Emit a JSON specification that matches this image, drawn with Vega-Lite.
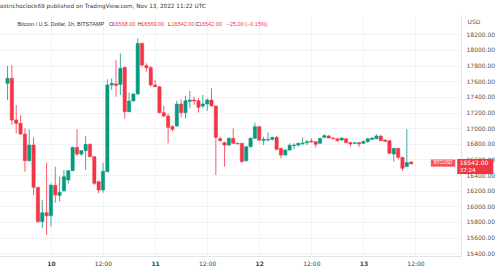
{
"$schema": "https://vega.github.io/schema/vega-lite/v6.json",
"width": 461, "height": 241,
"autosize": "none",
"padding": {"top": 15, "left": 0, "right": 39, "bottom": 15},
"background": "white",
"config": {"view": {"stroke": null}, "font": "DejaVu Sans", "axis": {"labelOverlap": false}},
"title": {"text": "ostrichoclock69 published on TradingView.com, Nov 13, 2022 11:22 UTC", "anchor": "start", "fontSize": 5.7, "fontWeight": "normal", "color": "#333333", "offset": 6, "font": "DejaVu Sans"},
"data": {"values": [
{"t":"2022-11-09T14:00:00Z","o":17573,"h":17795,"l":17360,"c":17637},
{"t":"2022-11-09T15:00:00Z","o":17637,"h":17807,"l":17040,"c":17104},
{"t":"2022-11-09T16:00:00Z","o":17104,"h":17296,"l":16934,"c":17061},
{"t":"2022-11-09T17:00:00Z","o":17061,"h":17168,"l":16912,"c":16925},
{"t":"2022-11-09T18:00:00Z","o":16925,"h":16997,"l":16443,"c":16584},
{"t":"2022-11-09T19:00:00Z","o":16584,"h":16985,"l":16571,"c":16784},
{"t":"2022-11-09T20:00:00Z","o":16784,"h":16882,"l":16145,"c":16243},
{"t":"2022-11-09T21:00:00Z","o":16243,"h":16250,"l":15791,"c":15804},
{"t":"2022-11-09T22:00:00Z","o":15804,"h":16081,"l":15719,"c":15919},
{"t":"2022-11-09T23:00:00Z","o":15919,"h":16558,"l":15633,"c":15880},
{"t":"2022-11-10T00:00:00Z","o":15880,"h":16294,"l":15740,"c":16270},
{"t":"2022-11-10T01:00:00Z","o":16270,"h":16507,"l":16047,"c":16145},
{"t":"2022-11-10T02:00:00Z","o":16140,"h":16379,"l":16060,"c":16179},
{"t":"2022-11-10T03:00:00Z","o":16200,"h":16465,"l":16187,"c":16379},
{"t":"2022-11-10T04:00:00Z","o":16337,"h":16465,"l":16294,"c":16456},
{"t":"2022-11-10T05:00:00Z","o":16456,"h":16763,"l":16450,"c":16754},
{"t":"2022-11-10T06:00:00Z","o":16754,"h":16985,"l":16644,"c":16669},
{"t":"2022-11-10T07:00:00Z","o":16669,"h":16720,"l":16644,"c":16712},
{"t":"2022-11-10T08:00:00Z","o":16712,"h":16899,"l":16465,"c":16793},
{"t":"2022-11-10T09:00:00Z","o":16793,"h":16806,"l":16627,"c":16635},
{"t":"2022-11-10T10:00:00Z","o":16635,"h":16644,"l":16273,"c":16294},
{"t":"2022-11-10T11:00:00Z","o":16315,"h":16328,"l":16166,"c":16209},
{"t":"2022-11-10T12:00:00Z","o":16209,"h":16558,"l":16175,"c":16448},
{"t":"2022-11-10T13:00:00Z","o":16443,"h":17624,"l":16440,"c":17552},
{"t":"2022-11-10T14:00:00Z","o":17552,"h":17637,"l":17488,"c":17573},
{"t":"2022-11-10T15:00:00Z","o":17566,"h":17871,"l":17402,"c":17547},
{"t":"2022-11-10T16:00:00Z","o":17560,"h":17957,"l":17424,"c":17765},
{"t":"2022-11-10T17:00:00Z","o":17778,"h":17786,"l":17125,"c":17211},
{"t":"2022-11-10T18:00:00Z","o":17211,"h":17454,"l":17205,"c":17347},
{"t":"2022-11-10T19:00:00Z","o":17347,"h":17445,"l":17338,"c":17437},
{"t":"2022-11-10T20:00:00Z","o":17437,"h":18148,"l":17430,"c":18084},
{"t":"2022-11-10T21:00:00Z","o":18084,"h":18093,"l":17786,"c":17807},
{"t":"2022-11-10T22:00:00Z","o":17799,"h":17829,"l":17722,"c":17773},
{"t":"2022-11-10T23:00:00Z","o":17773,"h":17795,"l":17530,"c":17552},
{"t":"2022-11-11T00:00:00Z","o":17552,"h":17616,"l":17522,"c":17530},
{"t":"2022-11-11T01:00:00Z","o":17530,"h":17539,"l":17189,"c":17198},
{"t":"2022-11-11T02:00:00Z","o":17198,"h":17283,"l":17138,"c":17155},
{"t":"2022-11-11T03:00:00Z","o":17155,"h":17189,"l":16806,"c":17010},
{"t":"2022-11-11T04:00:00Z","o":17019,"h":17040,"l":16955,"c":16985},
{"t":"2022-11-11T05:00:00Z","o":17027,"h":17351,"l":17019,"c":17309},
{"t":"2022-11-11T06:00:00Z","o":17309,"h":17368,"l":17138,"c":17198},
{"t":"2022-11-11T07:00:00Z","o":17198,"h":17411,"l":17125,"c":17351},
{"t":"2022-11-11T08:00:00Z","o":17343,"h":17475,"l":17253,"c":17360},
{"t":"2022-11-11T09:00:00Z","o":17360,"h":17402,"l":17296,"c":17347},
{"t":"2022-11-11T10:00:00Z","o":17351,"h":17381,"l":17198,"c":17266},
{"t":"2022-11-11T11:00:00Z","o":17283,"h":17424,"l":17253,"c":17309},
{"t":"2022-11-11T12:00:00Z","o":17309,"h":17381,"l":17223,"c":17360},
{"t":"2022-11-11T13:00:00Z","o":17360,"h":17509,"l":17280,"c":17283},
{"t":"2022-11-11T14:00:00Z","o":17283,"h":17290,"l":16401,"c":16882},
{"t":"2022-11-11T15:00:00Z","o":16865,"h":16891,"l":16827,"c":16840},
{"t":"2022-11-11T16:00:00Z","o":16814,"h":16827,"l":16507,"c":16784},
{"t":"2022-11-11T17:00:00Z","o":16784,"h":16882,"l":16771,"c":16870},
{"t":"2022-11-11T18:00:00Z","o":16870,"h":16997,"l":16800,"c":16806},
{"t":"2022-11-11T19:00:00Z","o":16806,"h":16814,"l":16795,"c":16797},
{"t":"2022-11-11T20:00:00Z","o":16806,"h":16810,"l":16558,"c":16571},
{"t":"2022-11-11T21:00:00Z","o":16584,"h":16768,"l":16571,"c":16763},
{"t":"2022-11-11T22:00:00Z","o":16763,"h":16882,"l":16754,"c":16870},
{"t":"2022-11-11T23:00:00Z","o":16870,"h":17070,"l":16865,"c":17019},
{"t":"2022-11-12T00:00:00Z","o":17019,"h":17027,"l":16835,"c":16848},
{"t":"2022-11-12T01:00:00Z","o":16840,"h":16891,"l":16784,"c":16857},
{"t":"2022-11-12T02:00:00Z","o":16848,"h":16946,"l":16827,"c":16857},
{"t":"2022-11-12T03:00:00Z","o":16857,"h":16891,"l":16840,"c":16882},
{"t":"2022-11-12T04:00:00Z","o":16882,"h":16899,"l":16720,"c":16729},
{"t":"2022-11-12T05:00:00Z","o":16742,"h":16745,"l":16614,"c":16656},
{"t":"2022-11-12T06:00:00Z","o":16656,"h":16729,"l":16650,"c":16720},
{"t":"2022-11-12T07:00:00Z","o":16720,"h":16806,"l":16712,"c":16780},
{"t":"2022-11-12T08:00:00Z","o":16776,"h":16806,"l":16729,"c":16784},
{"t":"2022-11-12T09:00:00Z","o":16784,"h":16814,"l":16763,"c":16806},
{"t":"2022-11-12T10:00:00Z","o":16801,"h":16882,"l":16784,"c":16810},
{"t":"2022-11-12T11:00:00Z","o":16814,"h":16848,"l":16784,"c":16827},
{"t":"2022-11-12T12:00:00Z","o":16835,"h":16870,"l":16814,"c":16823},
{"t":"2022-11-12T13:00:00Z","o":16827,"h":16830,"l":16754,"c":16793},
{"t":"2022-11-12T14:00:00Z","o":16806,"h":16872,"l":16800,"c":16870},
{"t":"2022-11-12T15:00:00Z","o":16883,"h":16921,"l":16870,"c":16904},
{"t":"2022-11-12T16:00:00Z","o":16900,"h":16912,"l":16870,"c":16874},
{"t":"2022-11-12T17:00:00Z","o":16874,"h":16883,"l":16857,"c":16865},
{"t":"2022-11-12T18:00:00Z","o":16865,"h":16870,"l":16827,"c":16840},
{"t":"2022-11-12T19:00:00Z","o":16848,"h":16878,"l":16840,"c":16874},
{"t":"2022-11-12T20:00:00Z","o":16865,"h":16868,"l":16806,"c":16814},
{"t":"2022-11-12T21:00:00Z","o":16814,"h":16827,"l":16763,"c":16797},
{"t":"2022-11-12T22:00:00Z","o":16806,"h":16823,"l":16797,"c":16814},
{"t":"2022-11-12T23:00:00Z","o":16814,"h":16827,"l":16763,"c":16797},
{"t":"2022-11-13T00:00:00Z","o":16806,"h":16840,"l":16797,"c":16831},
{"t":"2022-11-13T01:00:00Z","o":16827,"h":16874,"l":16814,"c":16865},
{"t":"2022-11-13T02:00:00Z","o":16857,"h":16883,"l":16848,"c":16874},
{"t":"2022-11-13T03:00:00Z","o":16865,"h":16921,"l":16857,"c":16900},
{"t":"2022-11-13T04:00:00Z","o":16900,"h":16908,"l":16831,"c":16840},
{"t":"2022-11-13T05:00:00Z","o":16848,"h":16857,"l":16823,"c":16831},
{"t":"2022-11-13T06:00:00Z","o":16840,"h":16843,"l":16669,"c":16678},
{"t":"2022-11-13T07:00:00Z","o":16669,"h":16742,"l":16571,"c":16742},
{"t":"2022-11-13T08:00:00Z","o":16742,"h":16745,"l":16601,"c":16627},
{"t":"2022-11-13T09:00:00Z","o":16627,"h":16630,"l":16452,"c":16486},
{"t":"2022-11-13T10:00:00Z","o":16507,"h":16985,"l":16505,"c":16559},
{"t":"2022-11-13T11:00:00Z","o":16568,"h":16569,"l":16542,"c":16542}
]},
"layer": [
  {"mark": {"type": "rule", "strokeWidth": 0.8},
   "encoding": {
     "x": {"field": "t", "type": "temporal",
       "scale": {"type": "utc", "domain": [1668000300000, 1668374400000]},
       "axis": {"orient": "bottom", "title": null, "tickCount": 20,
         "values": [1668038400000, 1668081600000, 1668124800000, 1668168000000, 1668211200000, 1668254400000, 1668297600000, 1668340800000],
         "labelExpr": "utchours(datum.value) == 0 ? utcFormat(datum.value, '%-d') : '12:00'",
         "labelFontWeight": {"condition": {"test": "utchours(datum.value) == 0", "value": "bold"}, "value": "normal"},
         "labelFontSize": 6, "labelColor": "#444444", "labelPadding": 4, "ticks": false,
         "domainColor": "#e0e3eb", "gridColor": "#f0f3fa", "labelFlush": false, "labelOverlap": false}},
     "y": {"field": "l", "type": "quantitative",
       "scale": {"domain": [15365, 18447], "nice": false, "zero": false},
       "axis": {"orient": "right", "tickCount": 20, "values": [15400,15600,15800,16000,16200,16400,16600,16800,17000,17200,17400,17600,17800,18000,18200],
         "format": ".2f", "labelFontSize": 6, "labelColor": "#555555", "labelPadding": 5, "ticks": false,
         "domainColor": "#e0e3eb", "gridColor": "#f0f3fa", "labelAlign": "left", "labelOverlap": false,
         "title": "USD", "titleAngle": 0, "titleX": 6, "titleY": 6, "titleAlign": "left", "titleBaseline": "middle",
         "titleFontSize": 6, "titleFontWeight": "normal", "titleColor": "#555555"}},
     "y2": {"field": "h"},
     "color": {"condition": {"test": "datum.c >= datum.o", "value": "#089981"}, "value": "#f23645"}}},
  {"mark": {"type": "bar", "width": 3.3, "strokeWidth": 0.5},
   "encoding": {
     "x": {"field": "t", "type": "temporal"},
     "y": {"field": "o", "type": "quantitative"},
     "y2": {"field": "c"},
     "color": {"condition": {"test": "datum.c >= datum.o", "value": "#089981"}, "value": "#f23645"},
     "stroke": {"condition": {"test": "datum.c >= datum.o", "value": "#089981"}, "value": "#f23645"}}},
  {"data": {"values": [{}]},
   "mark": {"type": "text", "align": "left", "baseline": "middle", "fontSize": 5.5, "font": "Liberation Sans", "fill": "#333333"},
   "encoding": {"x": {"datum": 1668010614000, "type": "temporal"}, "y": {"datum": 18338, "type": "quantitative"}, "text": {"value": "Bitcoin / U.S. Dollar, 1h, BITSTAMP"}}},
  {"data": {"values": [{}]},
   "mark": {"type": "text", "align": "left", "baseline": "middle", "fontSize": 5.5, "font": "Liberation Sans", "fill": "#333333"},
   "encoding": {"x": {"datum": 1668086600000, "type": "temporal"}, "y": {"datum": 18338, "type": "quantitative"}, "text": {"value": "O"}}},
  {"data": {"values": [{}]},
   "mark": {"type": "text", "align": "left", "baseline": "middle", "fontSize": 5.5, "font": "Liberation Sans", "fill": "#f23645"},
   "encoding": {"x": {"datum": 1668089435000, "type": "temporal"}, "y": {"datum": 18338, "type": "quantitative"}, "text": {"value": "16568.00"}}},
  {"data": {"values": [{}]},
   "mark": {"type": "text", "align": "left", "baseline": "middle", "fontSize": 5.5, "font": "Liberation Sans", "fill": "#333333"},
   "encoding": {"x": {"datum": 1668110497000, "type": "temporal"}, "y": {"datum": 18338, "type": "quantitative"}, "text": {"value": "H"}}},
  {"data": {"values": [{}]},
   "mark": {"type": "text", "align": "left", "baseline": "middle", "fontSize": 5.5, "font": "Liberation Sans", "fill": "#f23645"},
   "encoding": {"x": {"datum": 1668113332000, "type": "temporal"}, "y": {"datum": 18338, "type": "quantitative"}, "text": {"value": "16569.00"}}},
  {"data": {"values": [{}]},
   "mark": {"type": "text", "align": "left", "baseline": "middle", "fontSize": 5.5, "font": "Liberation Sans", "fill": "#333333"},
   "encoding": {"x": {"datum": 1668135610000, "type": "temporal"}, "y": {"datum": 18338, "type": "quantitative"}, "text": {"value": "L"}}},
  {"data": {"values": [{}]},
   "mark": {"type": "text", "align": "left", "baseline": "middle", "fontSize": 5.5, "font": "Liberation Sans", "fill": "#f23645"},
   "encoding": {"x": {"datum": 1668138445000, "type": "temporal"}, "y": {"datum": 18338, "type": "quantitative"}, "text": {"value": "16542.00"}}},
  {"data": {"values": [{}]},
   "mark": {"type": "text", "align": "left", "baseline": "middle", "fontSize": 5.5, "font": "Liberation Sans", "fill": "#333333"},
   "encoding": {"x": {"datum": 1668158292000, "type": "temporal"}, "y": {"datum": 18338, "type": "quantitative"}, "text": {"value": "C"}}},
  {"data": {"values": [{}]},
   "mark": {"type": "text", "align": "left", "baseline": "middle", "fontSize": 5.5, "font": "Liberation Sans", "fill": "#f23645"},
   "encoding": {"x": {"datum": 1668161127000, "type": "temporal"}, "y": {"datum": 18338, "type": "quantitative"}, "text": {"value": "16542.00"}}},
  {"data": {"values": [{}]},
   "mark": {"type": "text", "align": "left", "baseline": "middle", "fontSize": 5.5, "font": "Liberation Sans", "fill": "#f23645"},
   "encoding": {"x": {"datum": 1668184215000, "type": "temporal"}, "y": {"datum": 18338, "type": "quantitative"}, "text": {"value": "−25.00 (−0.15%)"}}},
  {"data": {"values": [{}]},
   "mark": {"type": "rect", "fill": "#f7525f"},
   "encoding": {"x": {"datum": 1668353522000, "type": "temporal"}, "x2": {"datum": 1668373774000}, "y": {"datum": 16599, "type": "quantitative"}, "y2": {"datum": 16507}}},
  {"data": {"values": [{}]},
   "mark": {"type": "text", "align": "center", "baseline": "middle", "fontSize": 4.5, "font": "Liberation Sans", "fill": "white"},
   "encoding": {"x": {"datum": 1668363648000, "type": "temporal"}, "y": {"datum": 16554, "type": "quantitative"}, "text": {"value": "BTCUSD"}}},
  {"data": {"values": [{}]},
   "mark": {"type": "rect", "fill": "#f23645"},
   "encoding": {"x": {"datum": 1668375394000, "type": "temporal"}, "x2": {"datum": 1668405367000}, "y": {"datum": 16605, "type": "quantitative"}, "y2": {"datum": 16414}}},
  {"data": {"values": [{}]},
   "mark": {"type": "text", "align": "left", "baseline": "middle", "fontSize": 6, "fill": "white"},
   "encoding": {"x": {"datum": 1668377419000, "type": "temporal"}, "y": {"datum": 16548, "type": "quantitative"}, "text": {"value": "16542.00"}}},
  {"data": {"values": [{}]},
   "mark": {"type": "text", "align": "left", "baseline": "middle", "fontSize": 5.5, "fill": "white"},
   "encoding": {"x": {"datum": 1668377419000, "type": "temporal"}, "y": {"datum": 16465, "type": "quantitative"}, "text": {"value": "37:24"}}}
]
}
